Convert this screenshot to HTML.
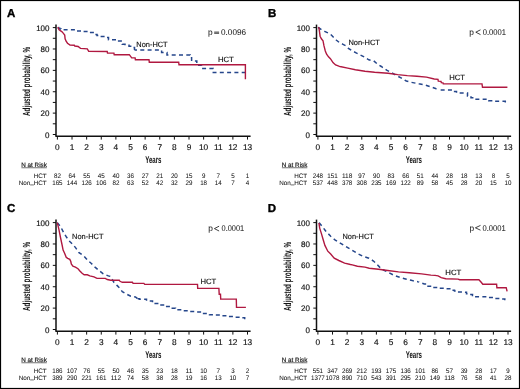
<!DOCTYPE html>
<html><head><meta charset="utf-8"><style>
html,body{margin:0;padding:0;background:#fff;}
body{width:520px;height:389px;overflow:hidden;}
svg{display:block;will-change:transform;}
text{font-family:"Liberation Sans",sans-serif;text-rendering:geometricPrecision;}
.rt{fill:#111;stroke:#111;stroke-width:0.04;}
.t{fill:#111;stroke:#111;stroke-width:0.15;}
.tp{fill:#1a1a1a;stroke:#1a1a1a;stroke-width:0.05;}
</style></head><body>
<svg width="520" height="389" viewBox="0 0 520 389">
<rect x="0" y="0" width="520" height="389" fill="#fff"/>

<line x1="56" y1="24.6" x2="56" y2="136.3" stroke="#111" stroke-width="1.5"/>
<line x1="55.4" y1="136.3" x2="250.6" y2="136.3" stroke="#111" stroke-width="1.5"/>
<line x1="52.8" y1="134.50" x2="56" y2="134.50" stroke="#111" stroke-width="1"/>
<text x="49.50" y="137.50" font-size="8" class="t" text-anchor="end">0</text>
<line x1="52.8" y1="123.81" x2="56" y2="123.81" stroke="#111" stroke-width="1"/>
<line x1="52.8" y1="113.12" x2="56" y2="113.12" stroke="#111" stroke-width="1"/>
<text x="49.50" y="116.12" font-size="8" class="t" text-anchor="end">20</text>
<line x1="52.8" y1="102.43" x2="56" y2="102.43" stroke="#111" stroke-width="1"/>
<line x1="52.8" y1="91.74" x2="56" y2="91.74" stroke="#111" stroke-width="1"/>
<text x="49.50" y="94.74" font-size="8" class="t" text-anchor="end">40</text>
<line x1="52.8" y1="81.05" x2="56" y2="81.05" stroke="#111" stroke-width="1"/>
<line x1="52.8" y1="70.36" x2="56" y2="70.36" stroke="#111" stroke-width="1"/>
<text x="49.50" y="73.36" font-size="8" class="t" text-anchor="end">60</text>
<line x1="52.8" y1="59.67" x2="56" y2="59.67" stroke="#111" stroke-width="1"/>
<line x1="52.8" y1="48.98" x2="56" y2="48.98" stroke="#111" stroke-width="1"/>
<text x="49.50" y="51.98" font-size="8" class="t" text-anchor="end">80</text>
<line x1="52.8" y1="38.29" x2="56" y2="38.29" stroke="#111" stroke-width="1"/>
<line x1="52.8" y1="27.60" x2="56" y2="27.60" stroke="#111" stroke-width="1"/>
<text x="49.50" y="30.60" font-size="8" class="t" text-anchor="end">100</text>
<line x1="57.40" y1="136.3" x2="57.40" y2="139.6" stroke="#111" stroke-width="1"/>
<text x="57.40" y="149.50" font-size="8.3" class="t" text-anchor="middle">0</text>
<line x1="72.02" y1="136.3" x2="72.02" y2="139.6" stroke="#111" stroke-width="1"/>
<text x="72.02" y="149.50" font-size="8.3" class="t" text-anchor="middle">1</text>
<line x1="86.65" y1="136.3" x2="86.65" y2="139.6" stroke="#111" stroke-width="1"/>
<text x="86.65" y="149.50" font-size="8.3" class="t" text-anchor="middle">2</text>
<line x1="101.27" y1="136.3" x2="101.27" y2="139.6" stroke="#111" stroke-width="1"/>
<text x="101.27" y="149.50" font-size="8.3" class="t" text-anchor="middle">3</text>
<line x1="115.89" y1="136.3" x2="115.89" y2="139.6" stroke="#111" stroke-width="1"/>
<text x="115.89" y="149.50" font-size="8.3" class="t" text-anchor="middle">4</text>
<line x1="130.51" y1="136.3" x2="130.51" y2="139.6" stroke="#111" stroke-width="1"/>
<text x="130.51" y="149.50" font-size="8.3" class="t" text-anchor="middle">5</text>
<line x1="145.14" y1="136.3" x2="145.14" y2="139.6" stroke="#111" stroke-width="1"/>
<text x="145.14" y="149.50" font-size="8.3" class="t" text-anchor="middle">6</text>
<line x1="159.76" y1="136.3" x2="159.76" y2="139.6" stroke="#111" stroke-width="1"/>
<text x="159.76" y="149.50" font-size="8.3" class="t" text-anchor="middle">7</text>
<line x1="174.38" y1="136.3" x2="174.38" y2="139.6" stroke="#111" stroke-width="1"/>
<text x="174.38" y="149.50" font-size="8.3" class="t" text-anchor="middle">8</text>
<line x1="189.01" y1="136.3" x2="189.01" y2="139.6" stroke="#111" stroke-width="1"/>
<text x="189.01" y="149.50" font-size="8.3" class="t" text-anchor="middle">9</text>
<line x1="203.63" y1="136.3" x2="203.63" y2="139.6" stroke="#111" stroke-width="1"/>
<text x="203.63" y="149.50" font-size="8.3" class="t" text-anchor="middle">10</text>
<line x1="218.25" y1="136.3" x2="218.25" y2="139.6" stroke="#111" stroke-width="1"/>
<text x="218.25" y="149.50" font-size="8.3" class="t" text-anchor="middle">11</text>
<line x1="232.88" y1="136.3" x2="232.88" y2="139.6" stroke="#111" stroke-width="1"/>
<text x="232.88" y="149.50" font-size="8.3" class="t" text-anchor="middle">12</text>
<line x1="247.50" y1="136.3" x2="247.50" y2="139.6" stroke="#111" stroke-width="1"/>
<text x="247.50" y="149.50" font-size="8.3" class="t" text-anchor="middle">13</text>
<text x="145.20" y="162.90" font-size="9.8" fill="#111" font-weight="bold" textLength="16.3" lengthAdjust="spacingAndGlyphs">Years</text>
<text transform="translate(30.20,115.90) rotate(-90)" x="0" y="0" font-size="10.3" fill="#111" font-weight="bold" textLength="69.0" lengthAdjust="spacingAndGlyphs">Adjusted probability, %</text>
<text x="21.30" y="167.10" font-size="6.3" class="t">N at Risk</text>
<line x1="21.40" y1="167.75" x2="46.80" y2="167.75" stroke="#111" stroke-width="0.6"/>
<text x="46.70" y="177.60" font-size="6.3" class="rt" text-anchor="end">HCT</text>
<text x="46.70" y="185.30" font-size="6.3" class="rt" text-anchor="end">Non<tspan dy="-0.9">_</tspan><tspan dy="0.9">HCT</tspan></text>
<text x="57.40" y="177.60" font-size="6.7" class="rt" text-anchor="middle" textLength="6.93" lengthAdjust="spacingAndGlyphs">82</text>
<text x="57.40" y="185.30" font-size="6.7" class="rt" text-anchor="middle" textLength="10.39" lengthAdjust="spacingAndGlyphs">165</text>
<text x="72.02" y="177.60" font-size="6.7" class="rt" text-anchor="middle" textLength="6.93" lengthAdjust="spacingAndGlyphs">64</text>
<text x="72.02" y="185.30" font-size="6.7" class="rt" text-anchor="middle" textLength="10.39" lengthAdjust="spacingAndGlyphs">144</text>
<text x="86.65" y="177.60" font-size="6.7" class="rt" text-anchor="middle" textLength="6.93" lengthAdjust="spacingAndGlyphs">55</text>
<text x="86.65" y="185.30" font-size="6.7" class="rt" text-anchor="middle" textLength="10.39" lengthAdjust="spacingAndGlyphs">126</text>
<text x="101.27" y="177.60" font-size="6.7" class="rt" text-anchor="middle" textLength="6.93" lengthAdjust="spacingAndGlyphs">45</text>
<text x="101.27" y="185.30" font-size="6.7" class="rt" text-anchor="middle" textLength="10.39" lengthAdjust="spacingAndGlyphs">106</text>
<text x="115.89" y="177.60" font-size="6.7" class="rt" text-anchor="middle" textLength="6.93" lengthAdjust="spacingAndGlyphs">40</text>
<text x="115.89" y="185.30" font-size="6.7" class="rt" text-anchor="middle" textLength="6.93" lengthAdjust="spacingAndGlyphs">82</text>
<text x="130.51" y="177.60" font-size="6.7" class="rt" text-anchor="middle" textLength="6.93" lengthAdjust="spacingAndGlyphs">36</text>
<text x="130.51" y="185.30" font-size="6.7" class="rt" text-anchor="middle" textLength="6.93" lengthAdjust="spacingAndGlyphs">63</text>
<text x="145.14" y="177.60" font-size="6.7" class="rt" text-anchor="middle" textLength="6.93" lengthAdjust="spacingAndGlyphs">27</text>
<text x="145.14" y="185.30" font-size="6.7" class="rt" text-anchor="middle" textLength="6.93" lengthAdjust="spacingAndGlyphs">52</text>
<text x="159.76" y="177.60" font-size="6.7" class="rt" text-anchor="middle" textLength="6.93" lengthAdjust="spacingAndGlyphs">21</text>
<text x="159.76" y="185.30" font-size="6.7" class="rt" text-anchor="middle" textLength="6.93" lengthAdjust="spacingAndGlyphs">42</text>
<text x="174.38" y="177.60" font-size="6.7" class="rt" text-anchor="middle" textLength="6.93" lengthAdjust="spacingAndGlyphs">20</text>
<text x="174.38" y="185.30" font-size="6.7" class="rt" text-anchor="middle" textLength="6.93" lengthAdjust="spacingAndGlyphs">32</text>
<text x="189.01" y="177.60" font-size="6.7" class="rt" text-anchor="middle" textLength="6.93" lengthAdjust="spacingAndGlyphs">15</text>
<text x="189.01" y="185.30" font-size="6.7" class="rt" text-anchor="middle" textLength="6.93" lengthAdjust="spacingAndGlyphs">29</text>
<text x="203.63" y="177.60" font-size="6.7" class="rt" text-anchor="middle" textLength="3.46" lengthAdjust="spacingAndGlyphs">9</text>
<text x="203.63" y="185.30" font-size="6.7" class="rt" text-anchor="middle" textLength="6.93" lengthAdjust="spacingAndGlyphs">18</text>
<text x="218.25" y="177.60" font-size="6.7" class="rt" text-anchor="middle" textLength="3.46" lengthAdjust="spacingAndGlyphs">7</text>
<text x="218.25" y="185.30" font-size="6.7" class="rt" text-anchor="middle" textLength="6.93" lengthAdjust="spacingAndGlyphs">14</text>
<text x="232.88" y="177.60" font-size="6.7" class="rt" text-anchor="middle" textLength="3.46" lengthAdjust="spacingAndGlyphs">5</text>
<text x="232.88" y="185.30" font-size="6.7" class="rt" text-anchor="middle" textLength="3.46" lengthAdjust="spacingAndGlyphs">7</text>
<text x="247.50" y="177.60" font-size="6.7" class="rt" text-anchor="middle" textLength="3.46" lengthAdjust="spacingAndGlyphs">1</text>
<text x="247.50" y="185.30" font-size="6.7" class="rt" text-anchor="middle" textLength="3.46" lengthAdjust="spacingAndGlyphs">4</text>
<text x="6.90" y="17.20" font-size="11.5" font-weight="bold" fill="#000" stroke="#000" stroke-width="0.35">A</text>
<text x="207.90" y="35.10" font-size="8.3" class="tp">p</text>
<line x1="214.20" y1="32.10" x2="219.10" y2="32.10" stroke="#111" stroke-width="0.8"/>
<line x1="214.20" y1="33.30" x2="219.10" y2="33.30" stroke="#111" stroke-width="0.8"/>
<text x="221.05" y="35.10" font-size="8.4" class="tp" textLength="25.00" lengthAdjust="spacingAndGlyphs">0.0096</text>
<text x="136.30" y="46.70" font-size="7.6" class="t" textLength="31.35" lengthAdjust="spacingAndGlyphs">Non-HCT</text>
<text x="217.90" y="61.70" font-size="7.6" class="t" textLength="15.95" lengthAdjust="spacingAndGlyphs">HCT</text>
<polyline points="57.40,27.60 58.50,27.60 58.50,28.30 59.80,28.30 59.80,28.90 61.00,28.90 61.00,29.70 75.50,29.70 75.50,30.90 81.50,30.90 81.50,31.60 88.50,31.60 88.50,32.60 95.00,32.60 95.00,34.40 97.00,34.40 97.00,35.50 99.50,35.50 99.50,36.50 106.50,36.50 106.50,37.40 108.50,37.40 108.50,39.70 117.50,39.70 117.50,41.10 122.30,41.10 122.30,44.30 125.00,44.30 125.00,45.30 129.00,45.30 129.00,46.20 132.80,46.20 132.80,47.40 134.50,47.40 134.50,49.90" fill="none" stroke="#25468b" stroke-width="1.5" stroke-dasharray="4 3.3" stroke-dashoffset="6.30" stroke-linejoin="miter"/>
<polyline points="134.50,49.90 161.60,49.90 161.60,52.50 167.00,52.50 167.00,55.00 190.20,55.00 190.20,57.80 191.60,57.80 191.60,61.00 196.80,61.00 196.80,65.20 201.70,65.20 201.70,68.40 213.30,68.40 213.30,72.60 245.40,72.60" fill="none" stroke="#25468b" stroke-width="1.5" stroke-dasharray="4 3.3" stroke-dashoffset="1.50" stroke-linejoin="miter"/>
<polyline points="57.40,27.60 58.40,27.80 58.90,29.70 60.30,30.70 61.80,31.60 63.20,33.10 64.70,35.00 65.10,38.80 66.10,41.20 67.50,43.20 70.00,45.10 74.30,45.30 74.80,46.00 78.10,46.50 80.50,48.40 87.30,48.90 88.70,51.30 107.20,51.50 107.50,53.10 113.90,53.10 114.20,54.70 129.30,54.70 131.70,57.90 135.10,57.90 135.40,59.70 149.00,59.70 149.30,62.20 178.70,62.20 179.00,64.80 245.40,64.80 245.40,79.20" fill="none" stroke="#b01840" stroke-width="1.4" stroke-linejoin="miter"/>
<line x1="316.5" y1="24.6" x2="316.5" y2="136.3" stroke="#111" stroke-width="1.5"/>
<line x1="315.9" y1="136.3" x2="511.1" y2="136.3" stroke="#111" stroke-width="1.5"/>
<line x1="313.3" y1="134.50" x2="316.5" y2="134.50" stroke="#111" stroke-width="1"/>
<text x="310.00" y="137.50" font-size="8" class="t" text-anchor="end">0</text>
<line x1="313.3" y1="123.81" x2="316.5" y2="123.81" stroke="#111" stroke-width="1"/>
<line x1="313.3" y1="113.12" x2="316.5" y2="113.12" stroke="#111" stroke-width="1"/>
<text x="310.00" y="116.12" font-size="8" class="t" text-anchor="end">20</text>
<line x1="313.3" y1="102.43" x2="316.5" y2="102.43" stroke="#111" stroke-width="1"/>
<line x1="313.3" y1="91.74" x2="316.5" y2="91.74" stroke="#111" stroke-width="1"/>
<text x="310.00" y="94.74" font-size="8" class="t" text-anchor="end">40</text>
<line x1="313.3" y1="81.05" x2="316.5" y2="81.05" stroke="#111" stroke-width="1"/>
<line x1="313.3" y1="70.36" x2="316.5" y2="70.36" stroke="#111" stroke-width="1"/>
<text x="310.00" y="73.36" font-size="8" class="t" text-anchor="end">60</text>
<line x1="313.3" y1="59.67" x2="316.5" y2="59.67" stroke="#111" stroke-width="1"/>
<line x1="313.3" y1="48.98" x2="316.5" y2="48.98" stroke="#111" stroke-width="1"/>
<text x="310.00" y="51.98" font-size="8" class="t" text-anchor="end">80</text>
<line x1="313.3" y1="38.29" x2="316.5" y2="38.29" stroke="#111" stroke-width="1"/>
<line x1="313.3" y1="27.60" x2="316.5" y2="27.60" stroke="#111" stroke-width="1"/>
<text x="310.00" y="30.60" font-size="8" class="t" text-anchor="end">100</text>
<line x1="317.90" y1="136.3" x2="317.90" y2="139.6" stroke="#111" stroke-width="1"/>
<text x="317.90" y="149.50" font-size="8.3" class="t" text-anchor="middle">0</text>
<line x1="332.52" y1="136.3" x2="332.52" y2="139.6" stroke="#111" stroke-width="1"/>
<text x="332.52" y="149.50" font-size="8.3" class="t" text-anchor="middle">1</text>
<line x1="347.15" y1="136.3" x2="347.15" y2="139.6" stroke="#111" stroke-width="1"/>
<text x="347.15" y="149.50" font-size="8.3" class="t" text-anchor="middle">2</text>
<line x1="361.77" y1="136.3" x2="361.77" y2="139.6" stroke="#111" stroke-width="1"/>
<text x="361.77" y="149.50" font-size="8.3" class="t" text-anchor="middle">3</text>
<line x1="376.39" y1="136.3" x2="376.39" y2="139.6" stroke="#111" stroke-width="1"/>
<text x="376.39" y="149.50" font-size="8.3" class="t" text-anchor="middle">4</text>
<line x1="391.01" y1="136.3" x2="391.01" y2="139.6" stroke="#111" stroke-width="1"/>
<text x="391.01" y="149.50" font-size="8.3" class="t" text-anchor="middle">5</text>
<line x1="405.64" y1="136.3" x2="405.64" y2="139.6" stroke="#111" stroke-width="1"/>
<text x="405.64" y="149.50" font-size="8.3" class="t" text-anchor="middle">6</text>
<line x1="420.26" y1="136.3" x2="420.26" y2="139.6" stroke="#111" stroke-width="1"/>
<text x="420.26" y="149.50" font-size="8.3" class="t" text-anchor="middle">7</text>
<line x1="434.88" y1="136.3" x2="434.88" y2="139.6" stroke="#111" stroke-width="1"/>
<text x="434.88" y="149.50" font-size="8.3" class="t" text-anchor="middle">8</text>
<line x1="449.51" y1="136.3" x2="449.51" y2="139.6" stroke="#111" stroke-width="1"/>
<text x="449.51" y="149.50" font-size="8.3" class="t" text-anchor="middle">9</text>
<line x1="464.13" y1="136.3" x2="464.13" y2="139.6" stroke="#111" stroke-width="1"/>
<text x="464.13" y="149.50" font-size="8.3" class="t" text-anchor="middle">10</text>
<line x1="478.75" y1="136.3" x2="478.75" y2="139.6" stroke="#111" stroke-width="1"/>
<text x="478.75" y="149.50" font-size="8.3" class="t" text-anchor="middle">11</text>
<line x1="493.38" y1="136.3" x2="493.38" y2="139.6" stroke="#111" stroke-width="1"/>
<text x="493.38" y="149.50" font-size="8.3" class="t" text-anchor="middle">12</text>
<line x1="508.00" y1="136.3" x2="508.00" y2="139.6" stroke="#111" stroke-width="1"/>
<text x="508.00" y="149.50" font-size="8.3" class="t" text-anchor="middle">13</text>
<text x="405.70" y="162.90" font-size="9.8" fill="#111" font-weight="bold" textLength="16.3" lengthAdjust="spacingAndGlyphs">Years</text>
<text transform="translate(290.70,115.90) rotate(-90)" x="0" y="0" font-size="10.3" fill="#111" font-weight="bold" textLength="69.0" lengthAdjust="spacingAndGlyphs">Adjusted probability, %</text>
<text x="281.80" y="167.10" font-size="6.3" class="t">N at Risk</text>
<line x1="281.90" y1="167.75" x2="307.30" y2="167.75" stroke="#111" stroke-width="0.6"/>
<text x="307.20" y="177.60" font-size="6.3" class="rt" text-anchor="end">HCT</text>
<text x="307.20" y="185.30" font-size="6.3" class="rt" text-anchor="end">Non<tspan dy="-0.9">_</tspan><tspan dy="0.9">HCT</tspan></text>
<text x="317.90" y="177.60" font-size="6.7" class="rt" text-anchor="middle" textLength="10.39" lengthAdjust="spacingAndGlyphs">248</text>
<text x="317.90" y="185.30" font-size="6.7" class="rt" text-anchor="middle" textLength="10.39" lengthAdjust="spacingAndGlyphs">537</text>
<text x="332.52" y="177.60" font-size="6.7" class="rt" text-anchor="middle" textLength="10.39" lengthAdjust="spacingAndGlyphs">151</text>
<text x="332.52" y="185.30" font-size="6.7" class="rt" text-anchor="middle" textLength="10.39" lengthAdjust="spacingAndGlyphs">448</text>
<text x="347.15" y="177.60" font-size="6.7" class="rt" text-anchor="middle" textLength="10.39" lengthAdjust="spacingAndGlyphs">118</text>
<text x="347.15" y="185.30" font-size="6.7" class="rt" text-anchor="middle" textLength="10.39" lengthAdjust="spacingAndGlyphs">378</text>
<text x="361.77" y="177.60" font-size="6.7" class="rt" text-anchor="middle" textLength="6.93" lengthAdjust="spacingAndGlyphs">97</text>
<text x="361.77" y="185.30" font-size="6.7" class="rt" text-anchor="middle" textLength="10.39" lengthAdjust="spacingAndGlyphs">308</text>
<text x="376.39" y="177.60" font-size="6.7" class="rt" text-anchor="middle" textLength="6.93" lengthAdjust="spacingAndGlyphs">90</text>
<text x="376.39" y="185.30" font-size="6.7" class="rt" text-anchor="middle" textLength="10.39" lengthAdjust="spacingAndGlyphs">235</text>
<text x="391.01" y="177.60" font-size="6.7" class="rt" text-anchor="middle" textLength="6.93" lengthAdjust="spacingAndGlyphs">83</text>
<text x="391.01" y="185.30" font-size="6.7" class="rt" text-anchor="middle" textLength="10.39" lengthAdjust="spacingAndGlyphs">169</text>
<text x="405.64" y="177.60" font-size="6.7" class="rt" text-anchor="middle" textLength="6.93" lengthAdjust="spacingAndGlyphs">66</text>
<text x="405.64" y="185.30" font-size="6.7" class="rt" text-anchor="middle" textLength="10.39" lengthAdjust="spacingAndGlyphs">122</text>
<text x="420.26" y="177.60" font-size="6.7" class="rt" text-anchor="middle" textLength="6.93" lengthAdjust="spacingAndGlyphs">51</text>
<text x="420.26" y="185.30" font-size="6.7" class="rt" text-anchor="middle" textLength="6.93" lengthAdjust="spacingAndGlyphs">89</text>
<text x="434.88" y="177.60" font-size="6.7" class="rt" text-anchor="middle" textLength="6.93" lengthAdjust="spacingAndGlyphs">44</text>
<text x="434.88" y="185.30" font-size="6.7" class="rt" text-anchor="middle" textLength="6.93" lengthAdjust="spacingAndGlyphs">58</text>
<text x="449.51" y="177.60" font-size="6.7" class="rt" text-anchor="middle" textLength="6.93" lengthAdjust="spacingAndGlyphs">28</text>
<text x="449.51" y="185.30" font-size="6.7" class="rt" text-anchor="middle" textLength="6.93" lengthAdjust="spacingAndGlyphs">45</text>
<text x="464.13" y="177.60" font-size="6.7" class="rt" text-anchor="middle" textLength="6.93" lengthAdjust="spacingAndGlyphs">18</text>
<text x="464.13" y="185.30" font-size="6.7" class="rt" text-anchor="middle" textLength="6.93" lengthAdjust="spacingAndGlyphs">28</text>
<text x="478.75" y="177.60" font-size="6.7" class="rt" text-anchor="middle" textLength="6.93" lengthAdjust="spacingAndGlyphs">13</text>
<text x="478.75" y="185.30" font-size="6.7" class="rt" text-anchor="middle" textLength="6.93" lengthAdjust="spacingAndGlyphs">20</text>
<text x="493.38" y="177.60" font-size="6.7" class="rt" text-anchor="middle" textLength="3.46" lengthAdjust="spacingAndGlyphs">8</text>
<text x="493.38" y="185.30" font-size="6.7" class="rt" text-anchor="middle" textLength="6.93" lengthAdjust="spacingAndGlyphs">15</text>
<text x="508.00" y="177.60" font-size="6.7" class="rt" text-anchor="middle" textLength="3.46" lengthAdjust="spacingAndGlyphs">5</text>
<text x="508.00" y="185.30" font-size="6.7" class="rt" text-anchor="middle" textLength="6.93" lengthAdjust="spacingAndGlyphs">10</text>
<text x="268.10" y="16.90" font-size="11.5" font-weight="bold" fill="#000" stroke="#000" stroke-width="0.35">B</text>
<text x="469.20" y="34.90" font-size="8.3" class="tp">p</text>
<polyline points="480.50,29.80 475.80,32.20 480.50,34.60" fill="none" stroke="#111" stroke-width="0.8"/>
<text x="482.65" y="34.90" font-size="8.4" class="tp" textLength="23.30" lengthAdjust="spacingAndGlyphs">0.0001</text>
<text x="348.40" y="44.80" font-size="7.6" class="t" textLength="31.55" lengthAdjust="spacingAndGlyphs">Non-HCT</text>
<text x="449.20" y="80.20" font-size="7.6" class="t" textLength="15.75" lengthAdjust="spacingAndGlyphs">HCT</text>
<polyline points="318.20,27.30 321.40,29.70 324.60,31.30 327.90,32.90 330.40,34.20 333.00,36.80 336.20,40.00 339.40,42.60 342.60,44.10 345.80,45.80 348.40,48.30 352.30,50.90 356.10,52.80 360.00,54.80 365.00,57.30 368.80,59.80 373.70,60.80 377.50,64.20 381.30,66.50 387.10,70.40 391.90,72.70 395.80,75.20 401.50,78.10 406.30,81.00 411.20,82.30 418.80,83.80 424.60,84.80 430.40,86.70 436.20,88.70 438.50,88.90 438.50,90.10" fill="none" stroke="#25468b" stroke-width="1.5" stroke-dasharray="4 3.3" stroke-dashoffset="0.00" stroke-linejoin="miter"/>
<polyline points="438.50,90.10 453.50,90.10 453.50,91.50 456.50,91.50 456.50,93.00 467.50,93.00 467.50,96.00 471.00,96.00 471.00,97.80 474.50,97.80 474.50,99.20 488.80,99.20 488.80,100.80 493.00,100.80 493.00,101.30 505.30,101.30 505.30,102.80" fill="none" stroke="#25468b" stroke-width="1.5" stroke-dasharray="4 3.3" stroke-dashoffset="5.15" stroke-linejoin="miter"/>
<polyline points="318.20,27.30 318.90,27.90 319.50,31.70 320.10,36.20 321.40,38.80 323.00,40.70 324.00,45.90 325.30,51.00 326.60,54.20 328.50,56.80 330.40,58.70 333.00,62.60 335.60,64.90 338.80,66.20 340.00,66.50 347.70,68.10 355.40,69.80 365.00,71.30 374.60,72.30 388.10,73.30 397.70,74.60 407.30,75.60 416.90,76.20 426.50,77.10 434.20,79.00 438.00,79.30 438.30,81.20 441.00,81.40 441.30,82.60 443.00,82.80 443.30,83.90 482.00,83.90 482.50,87.30 507.40,87.30" fill="none" stroke="#b01840" stroke-width="1.4" stroke-linejoin="miter"/>
<line x1="56" y1="219.6" x2="56" y2="331.3" stroke="#111" stroke-width="1.5"/>
<line x1="55.4" y1="331.3" x2="250.6" y2="331.3" stroke="#111" stroke-width="1.5"/>
<line x1="52.8" y1="329.50" x2="56" y2="329.50" stroke="#111" stroke-width="1"/>
<text x="49.50" y="332.50" font-size="8" class="t" text-anchor="end">0</text>
<line x1="52.8" y1="318.81" x2="56" y2="318.81" stroke="#111" stroke-width="1"/>
<line x1="52.8" y1="308.12" x2="56" y2="308.12" stroke="#111" stroke-width="1"/>
<text x="49.50" y="311.12" font-size="8" class="t" text-anchor="end">20</text>
<line x1="52.8" y1="297.43" x2="56" y2="297.43" stroke="#111" stroke-width="1"/>
<line x1="52.8" y1="286.74" x2="56" y2="286.74" stroke="#111" stroke-width="1"/>
<text x="49.50" y="289.74" font-size="8" class="t" text-anchor="end">40</text>
<line x1="52.8" y1="276.05" x2="56" y2="276.05" stroke="#111" stroke-width="1"/>
<line x1="52.8" y1="265.36" x2="56" y2="265.36" stroke="#111" stroke-width="1"/>
<text x="49.50" y="268.36" font-size="8" class="t" text-anchor="end">60</text>
<line x1="52.8" y1="254.67" x2="56" y2="254.67" stroke="#111" stroke-width="1"/>
<line x1="52.8" y1="243.98" x2="56" y2="243.98" stroke="#111" stroke-width="1"/>
<text x="49.50" y="246.98" font-size="8" class="t" text-anchor="end">80</text>
<line x1="52.8" y1="233.29" x2="56" y2="233.29" stroke="#111" stroke-width="1"/>
<line x1="52.8" y1="222.60" x2="56" y2="222.60" stroke="#111" stroke-width="1"/>
<text x="49.50" y="225.60" font-size="8" class="t" text-anchor="end">100</text>
<line x1="57.40" y1="331.3" x2="57.40" y2="334.6" stroke="#111" stroke-width="1"/>
<text x="57.40" y="344.50" font-size="8.3" class="t" text-anchor="middle">0</text>
<line x1="72.02" y1="331.3" x2="72.02" y2="334.6" stroke="#111" stroke-width="1"/>
<text x="72.02" y="344.50" font-size="8.3" class="t" text-anchor="middle">1</text>
<line x1="86.65" y1="331.3" x2="86.65" y2="334.6" stroke="#111" stroke-width="1"/>
<text x="86.65" y="344.50" font-size="8.3" class="t" text-anchor="middle">2</text>
<line x1="101.27" y1="331.3" x2="101.27" y2="334.6" stroke="#111" stroke-width="1"/>
<text x="101.27" y="344.50" font-size="8.3" class="t" text-anchor="middle">3</text>
<line x1="115.89" y1="331.3" x2="115.89" y2="334.6" stroke="#111" stroke-width="1"/>
<text x="115.89" y="344.50" font-size="8.3" class="t" text-anchor="middle">4</text>
<line x1="130.51" y1="331.3" x2="130.51" y2="334.6" stroke="#111" stroke-width="1"/>
<text x="130.51" y="344.50" font-size="8.3" class="t" text-anchor="middle">5</text>
<line x1="145.14" y1="331.3" x2="145.14" y2="334.6" stroke="#111" stroke-width="1"/>
<text x="145.14" y="344.50" font-size="8.3" class="t" text-anchor="middle">6</text>
<line x1="159.76" y1="331.3" x2="159.76" y2="334.6" stroke="#111" stroke-width="1"/>
<text x="159.76" y="344.50" font-size="8.3" class="t" text-anchor="middle">7</text>
<line x1="174.38" y1="331.3" x2="174.38" y2="334.6" stroke="#111" stroke-width="1"/>
<text x="174.38" y="344.50" font-size="8.3" class="t" text-anchor="middle">8</text>
<line x1="189.01" y1="331.3" x2="189.01" y2="334.6" stroke="#111" stroke-width="1"/>
<text x="189.01" y="344.50" font-size="8.3" class="t" text-anchor="middle">9</text>
<line x1="203.63" y1="331.3" x2="203.63" y2="334.6" stroke="#111" stroke-width="1"/>
<text x="203.63" y="344.50" font-size="8.3" class="t" text-anchor="middle">10</text>
<line x1="218.25" y1="331.3" x2="218.25" y2="334.6" stroke="#111" stroke-width="1"/>
<text x="218.25" y="344.50" font-size="8.3" class="t" text-anchor="middle">11</text>
<line x1="232.88" y1="331.3" x2="232.88" y2="334.6" stroke="#111" stroke-width="1"/>
<text x="232.88" y="344.50" font-size="8.3" class="t" text-anchor="middle">12</text>
<line x1="247.50" y1="331.3" x2="247.50" y2="334.6" stroke="#111" stroke-width="1"/>
<text x="247.50" y="344.50" font-size="8.3" class="t" text-anchor="middle">13</text>
<text x="145.20" y="357.90" font-size="9.8" fill="#111" font-weight="bold" textLength="16.3" lengthAdjust="spacingAndGlyphs">Years</text>
<text transform="translate(30.20,310.90) rotate(-90)" x="0" y="0" font-size="10.3" fill="#111" font-weight="bold" textLength="69.0" lengthAdjust="spacingAndGlyphs">Adjusted probability, %</text>
<text x="21.30" y="362.10" font-size="6.3" class="t">N at Risk</text>
<line x1="21.40" y1="362.75" x2="46.80" y2="362.75" stroke="#111" stroke-width="0.6"/>
<text x="46.70" y="372.60" font-size="6.3" class="rt" text-anchor="end">HCT</text>
<text x="46.70" y="380.30" font-size="6.3" class="rt" text-anchor="end">Non<tspan dy="-0.9">_</tspan><tspan dy="0.9">HCT</tspan></text>
<text x="57.40" y="372.60" font-size="6.7" class="rt" text-anchor="middle" textLength="10.39" lengthAdjust="spacingAndGlyphs">186</text>
<text x="57.40" y="380.30" font-size="6.7" class="rt" text-anchor="middle" textLength="10.39" lengthAdjust="spacingAndGlyphs">389</text>
<text x="72.02" y="372.60" font-size="6.7" class="rt" text-anchor="middle" textLength="10.39" lengthAdjust="spacingAndGlyphs">107</text>
<text x="72.02" y="380.30" font-size="6.7" class="rt" text-anchor="middle" textLength="10.39" lengthAdjust="spacingAndGlyphs">290</text>
<text x="86.65" y="372.60" font-size="6.7" class="rt" text-anchor="middle" textLength="6.93" lengthAdjust="spacingAndGlyphs">76</text>
<text x="86.65" y="380.30" font-size="6.7" class="rt" text-anchor="middle" textLength="10.39" lengthAdjust="spacingAndGlyphs">221</text>
<text x="101.27" y="372.60" font-size="6.7" class="rt" text-anchor="middle" textLength="6.93" lengthAdjust="spacingAndGlyphs">55</text>
<text x="101.27" y="380.30" font-size="6.7" class="rt" text-anchor="middle" textLength="10.39" lengthAdjust="spacingAndGlyphs">161</text>
<text x="115.89" y="372.60" font-size="6.7" class="rt" text-anchor="middle" textLength="6.93" lengthAdjust="spacingAndGlyphs">50</text>
<text x="115.89" y="380.30" font-size="6.7" class="rt" text-anchor="middle" textLength="10.39" lengthAdjust="spacingAndGlyphs">112</text>
<text x="130.51" y="372.60" font-size="6.7" class="rt" text-anchor="middle" textLength="6.93" lengthAdjust="spacingAndGlyphs">46</text>
<text x="130.51" y="380.30" font-size="6.7" class="rt" text-anchor="middle" textLength="6.93" lengthAdjust="spacingAndGlyphs">74</text>
<text x="145.14" y="372.60" font-size="6.7" class="rt" text-anchor="middle" textLength="6.93" lengthAdjust="spacingAndGlyphs">35</text>
<text x="145.14" y="380.30" font-size="6.7" class="rt" text-anchor="middle" textLength="6.93" lengthAdjust="spacingAndGlyphs">58</text>
<text x="159.76" y="372.60" font-size="6.7" class="rt" text-anchor="middle" textLength="6.93" lengthAdjust="spacingAndGlyphs">23</text>
<text x="159.76" y="380.30" font-size="6.7" class="rt" text-anchor="middle" textLength="6.93" lengthAdjust="spacingAndGlyphs">38</text>
<text x="174.38" y="372.60" font-size="6.7" class="rt" text-anchor="middle" textLength="6.93" lengthAdjust="spacingAndGlyphs">18</text>
<text x="174.38" y="380.30" font-size="6.7" class="rt" text-anchor="middle" textLength="6.93" lengthAdjust="spacingAndGlyphs">28</text>
<text x="189.01" y="372.60" font-size="6.7" class="rt" text-anchor="middle" textLength="6.93" lengthAdjust="spacingAndGlyphs">11</text>
<text x="189.01" y="380.30" font-size="6.7" class="rt" text-anchor="middle" textLength="6.93" lengthAdjust="spacingAndGlyphs">19</text>
<text x="203.63" y="372.60" font-size="6.7" class="rt" text-anchor="middle" textLength="6.93" lengthAdjust="spacingAndGlyphs">10</text>
<text x="203.63" y="380.30" font-size="6.7" class="rt" text-anchor="middle" textLength="6.93" lengthAdjust="spacingAndGlyphs">16</text>
<text x="218.25" y="372.60" font-size="6.7" class="rt" text-anchor="middle" textLength="3.46" lengthAdjust="spacingAndGlyphs">7</text>
<text x="218.25" y="380.30" font-size="6.7" class="rt" text-anchor="middle" textLength="6.93" lengthAdjust="spacingAndGlyphs">13</text>
<text x="232.88" y="372.60" font-size="6.7" class="rt" text-anchor="middle" textLength="3.46" lengthAdjust="spacingAndGlyphs">3</text>
<text x="232.88" y="380.30" font-size="6.7" class="rt" text-anchor="middle" textLength="6.93" lengthAdjust="spacingAndGlyphs">10</text>
<text x="247.50" y="372.60" font-size="6.7" class="rt" text-anchor="middle" textLength="3.46" lengthAdjust="spacingAndGlyphs">2</text>
<text x="247.50" y="380.30" font-size="6.7" class="rt" text-anchor="middle" textLength="3.46" lengthAdjust="spacingAndGlyphs">7</text>
<text x="7.00" y="212.30" font-size="11.5" font-weight="bold" fill="#000" stroke="#000" stroke-width="0.35">C</text>
<text x="208.30" y="231.30" font-size="8.3" class="tp">p</text>
<polyline points="219.10,226.20 214.40,228.60 219.10,231.00" fill="none" stroke="#111" stroke-width="0.8"/>
<text x="221.55" y="231.30" font-size="8.4" class="tp" textLength="22.70" lengthAdjust="spacingAndGlyphs">0.0001</text>
<text x="72.10" y="238.50" font-size="7.6" class="t" textLength="31.35" lengthAdjust="spacingAndGlyphs">Non-HCT</text>
<text x="200.40" y="284.20" font-size="7.6" class="t" textLength="15.75" lengthAdjust="spacingAndGlyphs">HCT</text>
<polyline points="57.30,222.60 60.80,227.00 63.40,232.10 66.60,237.30 69.80,241.50 73.40,245.00 75.90,248.10 79.00,252.70 83.70,255.80 87.80,260.40 91.40,263.50 95.00,267.10 98.60,270.20 103.20,273.80 108.40,275.90 110.00,276.40 111.60,278.50 113.90,282.30 117.00,285.40 119.30,287.70 122.30,291.60 126.20,293.90 130.80,296.20 135.40,297.00 137.80,298.80" fill="none" stroke="#25468b" stroke-width="1.5" stroke-dasharray="4 3.3" stroke-dashoffset="0.00" stroke-linejoin="miter"/>
<polyline points="137.80,298.80 139.50,298.80 139.50,299.20 146.50,299.20 146.50,300.90 152.50,300.90 152.50,303.50 159.50,303.50 159.50,305.00 163.50,305.00 163.50,306.60 171.00,306.60 171.00,308.30 175.50,308.30 175.50,309.80 183.00,309.80 183.00,310.70 189.00,310.70 189.00,311.50 195.50,311.50 195.50,311.90 202.50,311.90 202.50,313.50 209.50,313.50 209.50,314.70 215.50,314.70 215.50,315.10 222.00,315.10 222.00,315.80 228.50,315.80 228.50,316.60 234.50,316.60 234.50,317.20 241.00,317.20 241.00,317.80 244.70,317.80 244.70,319.30" fill="none" stroke="#25468b" stroke-width="1.5" stroke-dasharray="4 3.3" stroke-dashoffset="0.57" stroke-linejoin="miter"/>
<polyline points="57.30,222.60 58.90,229.30 60.60,238.00 62.10,245.00 63.10,250.10 64.60,253.20 66.20,257.30 67.70,258.40 69.80,259.40 70.80,261.50 71.30,264.00 72.90,266.10 75.40,267.10 78.00,268.70 80.10,271.20 82.10,273.30 84.20,274.80 87.30,274.80 89.80,275.90 94.00,276.90 97.00,278.40 105.30,278.40 107.30,279.50 110.80,280.30 119.30,280.30 120.00,281.30 122.30,282.30 132.40,282.30 133.10,283.40 143.90,283.40 144.70,284.40 197.50,284.40 197.70,288.40 218.90,288.40 219.20,294.30 220.50,294.30 220.70,299.10 236.30,299.10 236.50,307.40 245.90,307.40" fill="none" stroke="#b01840" stroke-width="1.4" stroke-linejoin="miter"/>
<line x1="316.5" y1="219.6" x2="316.5" y2="331.3" stroke="#111" stroke-width="1.5"/>
<line x1="315.9" y1="331.3" x2="511.1" y2="331.3" stroke="#111" stroke-width="1.5"/>
<line x1="313.3" y1="329.50" x2="316.5" y2="329.50" stroke="#111" stroke-width="1"/>
<text x="310.00" y="332.50" font-size="8" class="t" text-anchor="end">0</text>
<line x1="313.3" y1="318.81" x2="316.5" y2="318.81" stroke="#111" stroke-width="1"/>
<line x1="313.3" y1="308.12" x2="316.5" y2="308.12" stroke="#111" stroke-width="1"/>
<text x="310.00" y="311.12" font-size="8" class="t" text-anchor="end">20</text>
<line x1="313.3" y1="297.43" x2="316.5" y2="297.43" stroke="#111" stroke-width="1"/>
<line x1="313.3" y1="286.74" x2="316.5" y2="286.74" stroke="#111" stroke-width="1"/>
<text x="310.00" y="289.74" font-size="8" class="t" text-anchor="end">40</text>
<line x1="313.3" y1="276.05" x2="316.5" y2="276.05" stroke="#111" stroke-width="1"/>
<line x1="313.3" y1="265.36" x2="316.5" y2="265.36" stroke="#111" stroke-width="1"/>
<text x="310.00" y="268.36" font-size="8" class="t" text-anchor="end">60</text>
<line x1="313.3" y1="254.67" x2="316.5" y2="254.67" stroke="#111" stroke-width="1"/>
<line x1="313.3" y1="243.98" x2="316.5" y2="243.98" stroke="#111" stroke-width="1"/>
<text x="310.00" y="246.98" font-size="8" class="t" text-anchor="end">80</text>
<line x1="313.3" y1="233.29" x2="316.5" y2="233.29" stroke="#111" stroke-width="1"/>
<line x1="313.3" y1="222.60" x2="316.5" y2="222.60" stroke="#111" stroke-width="1"/>
<text x="310.00" y="225.60" font-size="8" class="t" text-anchor="end">100</text>
<line x1="317.90" y1="331.3" x2="317.90" y2="334.6" stroke="#111" stroke-width="1"/>
<text x="317.90" y="344.50" font-size="8.3" class="t" text-anchor="middle">0</text>
<line x1="332.52" y1="331.3" x2="332.52" y2="334.6" stroke="#111" stroke-width="1"/>
<text x="332.52" y="344.50" font-size="8.3" class="t" text-anchor="middle">1</text>
<line x1="347.15" y1="331.3" x2="347.15" y2="334.6" stroke="#111" stroke-width="1"/>
<text x="347.15" y="344.50" font-size="8.3" class="t" text-anchor="middle">2</text>
<line x1="361.77" y1="331.3" x2="361.77" y2="334.6" stroke="#111" stroke-width="1"/>
<text x="361.77" y="344.50" font-size="8.3" class="t" text-anchor="middle">3</text>
<line x1="376.39" y1="331.3" x2="376.39" y2="334.6" stroke="#111" stroke-width="1"/>
<text x="376.39" y="344.50" font-size="8.3" class="t" text-anchor="middle">4</text>
<line x1="391.01" y1="331.3" x2="391.01" y2="334.6" stroke="#111" stroke-width="1"/>
<text x="391.01" y="344.50" font-size="8.3" class="t" text-anchor="middle">5</text>
<line x1="405.64" y1="331.3" x2="405.64" y2="334.6" stroke="#111" stroke-width="1"/>
<text x="405.64" y="344.50" font-size="8.3" class="t" text-anchor="middle">6</text>
<line x1="420.26" y1="331.3" x2="420.26" y2="334.6" stroke="#111" stroke-width="1"/>
<text x="420.26" y="344.50" font-size="8.3" class="t" text-anchor="middle">7</text>
<line x1="434.88" y1="331.3" x2="434.88" y2="334.6" stroke="#111" stroke-width="1"/>
<text x="434.88" y="344.50" font-size="8.3" class="t" text-anchor="middle">8</text>
<line x1="449.51" y1="331.3" x2="449.51" y2="334.6" stroke="#111" stroke-width="1"/>
<text x="449.51" y="344.50" font-size="8.3" class="t" text-anchor="middle">9</text>
<line x1="464.13" y1="331.3" x2="464.13" y2="334.6" stroke="#111" stroke-width="1"/>
<text x="464.13" y="344.50" font-size="8.3" class="t" text-anchor="middle">10</text>
<line x1="478.75" y1="331.3" x2="478.75" y2="334.6" stroke="#111" stroke-width="1"/>
<text x="478.75" y="344.50" font-size="8.3" class="t" text-anchor="middle">11</text>
<line x1="493.38" y1="331.3" x2="493.38" y2="334.6" stroke="#111" stroke-width="1"/>
<text x="493.38" y="344.50" font-size="8.3" class="t" text-anchor="middle">12</text>
<line x1="508.00" y1="331.3" x2="508.00" y2="334.6" stroke="#111" stroke-width="1"/>
<text x="508.00" y="344.50" font-size="8.3" class="t" text-anchor="middle">13</text>
<text x="405.70" y="357.90" font-size="9.8" fill="#111" font-weight="bold" textLength="16.3" lengthAdjust="spacingAndGlyphs">Years</text>
<text transform="translate(290.70,310.90) rotate(-90)" x="0" y="0" font-size="10.3" fill="#111" font-weight="bold" textLength="69.0" lengthAdjust="spacingAndGlyphs">Adjusted probability, %</text>
<text x="281.80" y="362.10" font-size="6.3" class="t">N at Risk</text>
<line x1="281.90" y1="362.75" x2="307.30" y2="362.75" stroke="#111" stroke-width="0.6"/>
<text x="307.20" y="372.60" font-size="6.3" class="rt" text-anchor="end">HCT</text>
<text x="307.20" y="380.30" font-size="6.3" class="rt" text-anchor="end">Non<tspan dy="-0.9">_</tspan><tspan dy="0.9">HCT</tspan></text>
<text x="317.90" y="372.60" font-size="6.7" class="rt" text-anchor="middle" textLength="10.39" lengthAdjust="spacingAndGlyphs">551</text>
<text x="317.90" y="380.30" font-size="6.7" class="rt" text-anchor="middle" textLength="13.86" lengthAdjust="spacingAndGlyphs">1377</text>
<text x="332.52" y="372.60" font-size="6.7" class="rt" text-anchor="middle" textLength="10.39" lengthAdjust="spacingAndGlyphs">347</text>
<text x="332.52" y="380.30" font-size="6.7" class="rt" text-anchor="middle" textLength="13.86" lengthAdjust="spacingAndGlyphs">1078</text>
<text x="347.15" y="372.60" font-size="6.7" class="rt" text-anchor="middle" textLength="10.39" lengthAdjust="spacingAndGlyphs">269</text>
<text x="347.15" y="380.30" font-size="6.7" class="rt" text-anchor="middle" textLength="10.39" lengthAdjust="spacingAndGlyphs">890</text>
<text x="361.77" y="372.60" font-size="6.7" class="rt" text-anchor="middle" textLength="10.39" lengthAdjust="spacingAndGlyphs">212</text>
<text x="361.77" y="380.30" font-size="6.7" class="rt" text-anchor="middle" textLength="10.39" lengthAdjust="spacingAndGlyphs">710</text>
<text x="376.39" y="372.60" font-size="6.7" class="rt" text-anchor="middle" textLength="10.39" lengthAdjust="spacingAndGlyphs">193</text>
<text x="376.39" y="380.30" font-size="6.7" class="rt" text-anchor="middle" textLength="10.39" lengthAdjust="spacingAndGlyphs">543</text>
<text x="391.01" y="372.60" font-size="6.7" class="rt" text-anchor="middle" textLength="10.39" lengthAdjust="spacingAndGlyphs">175</text>
<text x="391.01" y="380.30" font-size="6.7" class="rt" text-anchor="middle" textLength="10.39" lengthAdjust="spacingAndGlyphs">391</text>
<text x="405.64" y="372.60" font-size="6.7" class="rt" text-anchor="middle" textLength="10.39" lengthAdjust="spacingAndGlyphs">136</text>
<text x="405.64" y="380.30" font-size="6.7" class="rt" text-anchor="middle" textLength="10.39" lengthAdjust="spacingAndGlyphs">295</text>
<text x="420.26" y="372.60" font-size="6.7" class="rt" text-anchor="middle" textLength="10.39" lengthAdjust="spacingAndGlyphs">101</text>
<text x="420.26" y="380.30" font-size="6.7" class="rt" text-anchor="middle" textLength="10.39" lengthAdjust="spacingAndGlyphs">210</text>
<text x="434.88" y="372.60" font-size="6.7" class="rt" text-anchor="middle" textLength="6.93" lengthAdjust="spacingAndGlyphs">86</text>
<text x="434.88" y="380.30" font-size="6.7" class="rt" text-anchor="middle" textLength="10.39" lengthAdjust="spacingAndGlyphs">149</text>
<text x="449.51" y="372.60" font-size="6.7" class="rt" text-anchor="middle" textLength="6.93" lengthAdjust="spacingAndGlyphs">57</text>
<text x="449.51" y="380.30" font-size="6.7" class="rt" text-anchor="middle" textLength="10.39" lengthAdjust="spacingAndGlyphs">118</text>
<text x="464.13" y="372.60" font-size="6.7" class="rt" text-anchor="middle" textLength="6.93" lengthAdjust="spacingAndGlyphs">39</text>
<text x="464.13" y="380.30" font-size="6.7" class="rt" text-anchor="middle" textLength="6.93" lengthAdjust="spacingAndGlyphs">76</text>
<text x="478.75" y="372.60" font-size="6.7" class="rt" text-anchor="middle" textLength="6.93" lengthAdjust="spacingAndGlyphs">28</text>
<text x="478.75" y="380.30" font-size="6.7" class="rt" text-anchor="middle" textLength="6.93" lengthAdjust="spacingAndGlyphs">58</text>
<text x="493.38" y="372.60" font-size="6.7" class="rt" text-anchor="middle" textLength="6.93" lengthAdjust="spacingAndGlyphs">17</text>
<text x="493.38" y="380.30" font-size="6.7" class="rt" text-anchor="middle" textLength="6.93" lengthAdjust="spacingAndGlyphs">41</text>
<text x="508.00" y="372.60" font-size="6.7" class="rt" text-anchor="middle" textLength="3.46" lengthAdjust="spacingAndGlyphs">9</text>
<text x="508.00" y="380.30" font-size="6.7" class="rt" text-anchor="middle" textLength="6.93" lengthAdjust="spacingAndGlyphs">28</text>
<text x="267.80" y="212.10" font-size="11.5" font-weight="bold" fill="#000" stroke="#000" stroke-width="0.35">D</text>
<text x="469.50" y="230.50" font-size="8.3" class="tp">p</text>
<polyline points="480.50,225.40 475.40,227.80 480.50,230.20" fill="none" stroke="#111" stroke-width="0.8"/>
<text x="482.55" y="230.50" font-size="8.4" class="tp" textLength="23.20" lengthAdjust="spacingAndGlyphs">0.0001</text>
<text x="342.50" y="238.70" font-size="7.6" class="t" textLength="31.25" lengthAdjust="spacingAndGlyphs">Non-HCT</text>
<text x="445.30" y="274.80" font-size="7.6" class="t" textLength="15.95" lengthAdjust="spacingAndGlyphs">HCT</text>
<polyline points="318.90,222.90 319.50,223.20 322.60,226.90 326.10,231.60 330.70,236.20 335.30,240.20 341.10,243.70 346.90,247.20 352.70,250.60 358.50,254.10 363.10,256.40 368.90,258.20 373.50,261.00 376.50,263.80 379.60,267.10 383.50,270.00 389.20,272.90 395.00,275.80 400.80,277.70 406.50,279.20 412.30,280.60 418.60,281.90" fill="none" stroke="#25468b" stroke-width="1.5" stroke-dasharray="4 3.3" stroke-dashoffset="0.00" stroke-linejoin="miter"/>
<polyline points="418.60,281.90 424.30,284.00 426.50,284.00 426.50,286.20 432.50,286.20 432.50,287.50 438.50,287.50 438.50,288.30 445.50,288.30 445.50,288.80 451.50,288.80 451.50,290.20 454.50,290.20 454.50,291.00 457.00,291.00 457.00,292.00 463.50,292.00 463.50,292.30 466.50,292.30 466.50,293.70 469.50,293.70 469.50,294.40 472.50,294.40 472.50,295.40 475.00,295.40 475.00,296.80 488.80,296.80 488.80,297.50 494.80,297.50 494.80,298.40 501.80,298.40 501.80,298.90 504.80,298.90 504.80,300.60" fill="none" stroke="#25468b" stroke-width="1.5" stroke-dasharray="4 3.3" stroke-dashoffset="3.37" stroke-linejoin="miter"/>
<polyline points="318.90,222.90 319.70,228.10 321.50,233.90 323.20,239.70 324.90,245.40 327.80,251.20 330.70,254.10 334.20,258.20 338.80,260.50 344.60,263.10 350.40,264.50 352.30,264.90 357.40,266.20 365.00,267.10 369.20,268.20 378.50,269.30 387.70,270.50 398.50,271.90 409.30,272.80 421.60,273.90 430.90,275.10 435.00,275.40 438.10,275.90 441.20,277.70 445.80,278.80 458.10,279.10 459.70,279.70 478.90,279.70 481.20,282.30 482.80,284.30 496.60,284.30 496.90,287.70 506.20,287.70 507.10,291.30" fill="none" stroke="#b01840" stroke-width="1.4" stroke-linejoin="miter"/>
<rect x="0.5" y="0.5" width="519" height="388" fill="none" stroke="#000" stroke-width="1.2"/>
</svg></body></html>
